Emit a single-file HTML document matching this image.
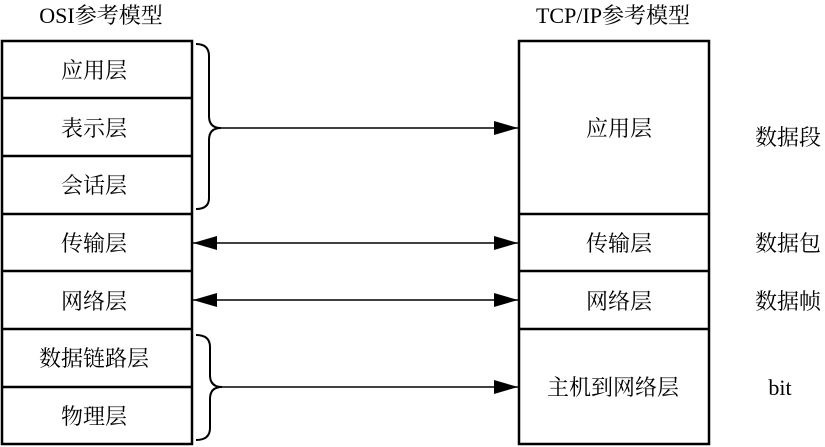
<!DOCTYPE html>
<html><head><meta charset="utf-8"><style>
html,body{margin:0;padding:0;background:#fff;}
svg{display:block;}
text{font-family:"Liberation Serif","Noto Serif CJK SC",serif;font-size:22px;fill:#000;}
</style></head><body>
<svg width="825" height="447" viewBox="0 0 825 447" xmlns="http://www.w3.org/2000/svg">
<defs>
<marker id="a" markerWidth="24" markerHeight="14" refX="24" refY="7" orient="auto" markerUnits="userSpaceOnUse">
<path d="M0,0 L24,7 L0,14 Z" fill="#000"/></marker>
<marker id="b" markerWidth="24" markerHeight="14" refX="24" refY="7" orient="auto-start-reverse" markerUnits="userSpaceOnUse">
<path d="M0,0 L24,7 L0,14 Z" fill="#000"/></marker>
</defs>
<text x="101" y="23" text-anchor="middle">OSI参考模型</text>
<text x="613" y="23" text-anchor="middle">TCP/IP参考模型</text>
<g fill="none" stroke="#000" stroke-width="2.5">
<rect x="2" y="41" width="190" height="403"/>
<line x1="2" y1="98" x2="192" y2="98"/>
<line x1="2" y1="156" x2="192" y2="156"/>
<line x1="2" y1="214" x2="192" y2="214"/>
<line x1="2" y1="271" x2="192" y2="271"/>
<line x1="2" y1="329" x2="192" y2="329"/>
<line x1="2" y1="387" x2="192" y2="387"/>
<rect x="519" y="41" width="190" height="403"/>
<line x1="519" y1="214" x2="709" y2="214"/>
<line x1="519" y1="271" x2="709" y2="271"/>
<line x1="519" y1="329" x2="709" y2="329"/>
</g>
<g fill="none" stroke="#000" stroke-width="2">
<path d="M196,44 Q209,44 209,56 L209,116 Q209,128 221,128 Q209,128 209,140 L209,198 Q209,209 196,209"/>
<path d="M196,335 Q210,335 210,347 L210,375 Q210,387 222,387 Q210,387 210,399 L210,428 Q210,440 196,440"/>
</g>
<g stroke="#000" stroke-width="1.5">
<line x1="221" y1="128" x2="518" y2="128" marker-end="url(#a)"/>
<line x1="222" y1="387" x2="518" y2="387" marker-end="url(#a)"/>
<line x1="193" y1="243" x2="518" y2="243" marker-start="url(#b)" marker-end="url(#a)"/>
<line x1="193" y1="300" x2="518" y2="300" marker-start="url(#b)" marker-end="url(#a)"/>
</g>
<g text-anchor="middle">
<text x="94" y="78">应用层</text>
<text x="94" y="136">表示层</text>
<text x="94" y="193">会话层</text>
<text x="94" y="251">传输层</text>
<text x="94" y="309">网络层</text>
<text x="94" y="366">数据链路层</text>
<text x="94" y="424">物理层</text>
<text x="619" y="136">应用层</text>
<text x="619" y="251">传输层</text>
<text x="619" y="309">网络层</text>
<text x="613" y="395">主机到网络层</text>
<text x="788" y="145">数据段</text>
<text x="788" y="251">数据包</text>
<text x="788" y="309">数据帧</text>
<text x="780" y="395">bit</text>
</g>
</svg>
</body></html>
